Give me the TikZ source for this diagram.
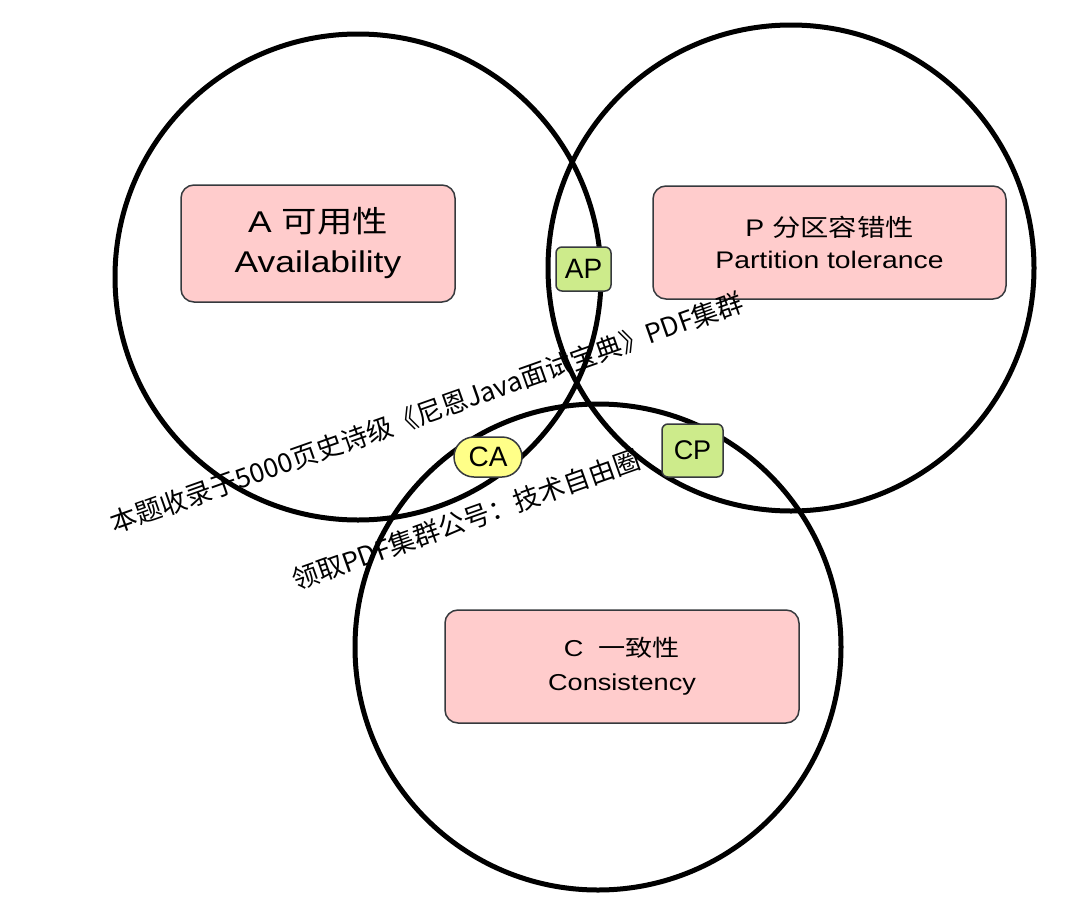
\documentclass[tikz,border=0pt]{standalone}
\usepackage{graphicx}
\usepackage{fontspec}
\setmainfont{Liberation Sans}
\newfontfamily\cjk{Noto Sans CJK SC}
\usepackage{xcolor}
\usetikzlibrary{positioning}

\definecolor{propfill}{HTML}{FFCCCC}
\definecolor{propline}{HTML}{36393D}
\definecolor{pairgreen}{HTML}{CDEB8B}
\definecolor{pairyellow}{HTML}{FFFF88}

\newcommand{\wtxt}[1]{\scalebox{1.18}[1]{#1}}

\tikzset{
  ring/.style={circle, draw, line width=5pt, minimum size=486pt, inner sep=0pt},
  prop/.style={rectangle, draw=propline, fill=propfill, line width=1.5pt, rounded corners=13pt, align=center, inner sep=0pt},
  pair/.style={rectangle, draw=propline, fill=pairgreen, line width=1.5pt, rounded corners=6pt, inner sep=0pt, font=\fontsize{28}{32}\selectfont},
  stamp/.style={font=\cjk\fontsize{26.5}{30}\selectfont, rotate=19.5, inner sep=0pt}
}

\begin{document}
\begin{tikzpicture}[x=1pt, y=-1pt]
  \fill[white] (0,0) rectangle (1080,921);
  \useasboundingbox (0,0) rectangle (1080,921);

  % the three circles
  \node[ring] (A) at (358,277) {};
  \node[ring] (P) at (791,268) {};
  \node[ring] (C) at (598,647) {};

  % one box for each property
  \node[prop, minimum width=274pt, minimum height=117pt, font=\fontsize{30}{40}\selectfont] (Abox) at (318,243.5)
    {\wtxt{A {\cjk 可用性}}\\ \wtxt{Availability}};
  \node[prop, minimum width=353pt, minimum height=113pt, font=\fontsize{24}{32}\selectfont] (Pbox) at (829.5,242.5)
    {\wtxt{P {\cjk 分区容错性}}\\ \wtxt{Partition tolerance}};
  \node[prop, minimum width=354pt, minimum height=113pt, font=\fontsize{23}{34}\selectfont] (Cbox) at (622,666.5)
    {\wtxt{C\ \ {\cjk 一致性}}\\ \wtxt{Consistency}};

  % the overlaps
  \node[pair, minimum width=55pt, minimum height=44pt] (AP) at (583.5,269) {AP};
  \node[pair, fill=pairyellow, rounded corners=20pt, minimum width=68pt, minimum height=40pt] (CA) at (488,457) {CA};
  \node[pair, minimum width=61pt, minimum height=53pt, font=\fontsize{27}{32}\selectfont] (CP) at (692.5,450.5) {CP};

  % watermark
  \node[stamp] (mark1) at (427,412.5) {本题收录于5000页史诗级《尼恩Java面试宝典》PDF集群};
  \node[stamp] (mark2) at (466,520) {领取PDF集群公号：技术自由圈};
\end{tikzpicture}
\end{document}
